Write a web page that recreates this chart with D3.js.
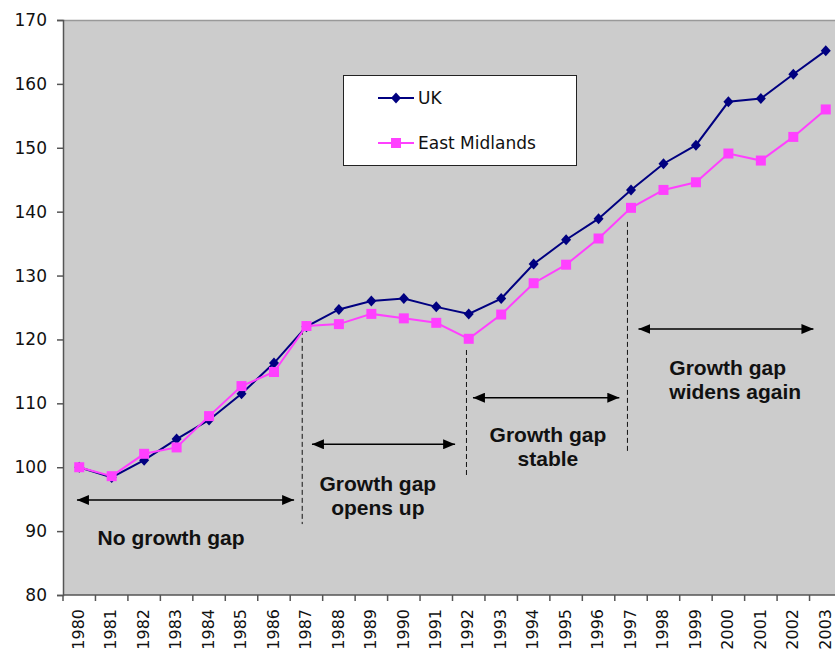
<!DOCTYPE html>
<html>
<head>
<meta charset="utf-8">
<script src="https://cdn.jsdelivr.net/npm/d3@7"></script>
<style>
  body { margin: 0; background: #fff; }
  svg { display: block; }
</style>
</head>
<body>
<div id="chart"></div>
<script>
// data
const years = d3.range(1980, 2004).map(String);
const ukValues = [100, 98.4, 101.1, 104.4, 107.4, 111.5, 116.3, 122.0, 124.7, 126.0, 126.4, 125.1,
                  124.0, 126.4, 131.8, 135.6, 138.9, 143.4, 147.5, 150.4, 157.2, 157.7, 161.5, 165.2];
const emValues = [100, 98.6, 102.1, 103.1, 108.0, 112.7, 114.9, 122.1, 122.4, 124.0, 123.3, 122.6,
                  120.1, 123.9, 128.8, 131.7, 135.8, 140.6, 143.4, 144.6, 149.1, 148.0, 151.7, 156.0];
const yTicks = [80, 90, 100, 110, 120, 130, 140, 150, 160, 170];

// annotations in data units (year, index value)
const dividers = [
    { x: 1986.87, y1: 121.5, y2: 91.1 },
    { x: 1991.93, y1: 118.35, y2: 98.5 },
    { x: 1996.89, y1: 138.4, y2: 102.4 }
];
const arrows = [
    { x1: 1979.93, x2: 1986.62, y: 94.87 },
    { x1: 1987.17, x2: 1991.58, y: 103.59 },
    { x1: 1992.13, x2: 1996.64, y: 110.88 },
    { x1: 1997.23, x2: 2002.62, y: 121.63 }
];
const notes = [
    { lines: ["No growth gap"], x: 1982.83, y: 87.83, anchor: "middle" },
    { lines: ["Growth gap", "opens up"], x: 1989.2, y: 96.33, anchor: "middle" },
    { lines: ["Growth gap", "stable"], x: 1994.44, y: 103.99, anchor: "middle" },
    { lines: ["Growth gap", "widens again"], x: 1998.18, y: 114.36, anchor: "start" }
];

const width = 835, height = 651;
const plot = { left: 63, right: 842, top: 20, bottom: 595 };

const svg = d3.select("#chart").append("svg")
    .attr("width", width)
    .attr("height", height);

const x = d3.scaleBand().domain(years).range([plot.left, plot.right]).padding(0);
const xYear = d3.scaleLinear().domain([1979.5, 2003.5]).range([plot.left, plot.right]);
const y = d3.scaleLinear().domain([80, 170]).range([plot.bottom, plot.top]);

// plot background
svg.append("rect")
    .attr("x", plot.left).attr("y", plot.top)
    .attr("width", plot.right - plot.left).attr("height", plot.bottom - plot.top)
    .attr("fill", "#cccccc");
svg.append("line")
    .attr("x1", plot.left).attr("x2", plot.right)
    .attr("y1", plot.top + 0.5).attr("y2", plot.top + 0.5)
    .attr("stroke", "#999").attr("stroke-width", 1.5);

// y axis
const yAxis = svg.append("g")
    .attr("transform", `translate(${plot.left},0)`)
    .call(d3.axisLeft(y).tickValues(yTicks).tickSize(6).tickPadding(10));
yAxis.select(".domain").attr("stroke", "#555").attr("stroke-width", 1.5);
yAxis.selectAll(".tick line").attr("stroke", "#555").attr("stroke-width", 1.5);
yAxis.selectAll("text")
    .attr("font-family", "DejaVu Sans, Verdana, sans-serif")
    .attr("font-size", 17)
    .attr("fill", "#111");

// x axis: ticks sit on band boundaries
const xAxis = svg.append("g")
    .attr("transform", `translate(0,${plot.bottom})`);
xAxis.append("line")
    .attr("x1", plot.left).attr("x2", plot.right)
    .attr("stroke", "#555").attr("stroke-width", 1.5);
xAxis.selectAll(".xtick")
    .data(years.concat(["end"]))
    .join("line")
    .attr("class", "xtick")
    .attr("x1", (d, i) => plot.left + i * x.step())
    .attr("x2", (d, i) => plot.left + i * x.step())
    .attr("y1", 0).attr("y2", 6)
    .attr("stroke", "#555").attr("stroke-width", 1.5);
xAxis.selectAll(".xlabel")
    .data(years)
    .join("text")
    .attr("class", "xlabel")
    .attr("transform", d => `translate(${x(d) + x.bandwidth() / 2 - 1},14) rotate(-90)`)
    .attr("dy", "0.36em")
    .attr("text-anchor", "end")
    .attr("font-family", "DejaVu Sans, Verdana, sans-serif")
    .attr("font-size", 16)
    .attr("fill", "#111")
    .text(d => d);

// annotations
const annot = svg.append("g");
annot.selectAll(".divider")
    .data(dividers)
    .join("line")
    .attr("class", "divider")
    .attr("x1", d => xYear(d.x)).attr("x2", d => xYear(d.x))
    .attr("y1", d => y(d.y1)).attr("y2", d => y(d.y2))
    .attr("stroke", "#111").attr("stroke-width", 1)
    .attr("stroke-dasharray", "5,3");

svg.append("defs").append("marker")
    .attr("id", "head")
    .attr("viewBox", "0 0 12 10")
    .attr("refX", 12).attr("refY", 5)
    .attr("markerWidth", 12).attr("markerHeight", 10)
    .attr("markerUnits", "userSpaceOnUse")
    .attr("orient", "auto-start-reverse")
    .append("path")
    .attr("d", "M0,0 L12,5 L0,10 Z")
    .attr("fill", "#000");

annot.selectAll(".arrow")
    .data(arrows)
    .join("line")
    .attr("class", "arrow")
    .attr("x1", d => xYear(d.x1)).attr("x2", d => xYear(d.x2))
    .attr("y1", d => y(d.y)).attr("y2", d => y(d.y))
    .attr("stroke", "#000").attr("stroke-width", 1.5)
    .attr("marker-start", "url(#head)")
    .attr("marker-end", "url(#head)");

const noteText = annot.selectAll(".note")
    .data(notes)
    .join("text")
    .attr("class", "note")
    .attr("x", d => xYear(d.x))
    .attr("y", d => y(d.y))
    .attr("text-anchor", d => d.anchor)
    .attr("font-family", "Liberation Sans, Arial, sans-serif")
    .attr("font-weight", "bold")
    .attr("font-size", 21)
    .attr("fill", "#111");
noteText.selectAll("tspan")
    .data(d => d.lines.map(t => ({ t, x: xYear(d.x) })))
    .join("tspan")
    .attr("x", d => d.x)
    .attr("dy", (d, i) => i === 0 ? 0 : 24)
    .text(d => d.t);

// series
const series = [
    { name: "UK", values: ukValues, color: "#000080", shape: "diamond" },
    { name: "East Midlands", values: emValues, color: "#ff40ff", shape: "square" }
];
const diamond = "M0,-5.5 L5,0 L0,5.5 L-5,0 Z";
const square = "M-5,-5 L5,-5 L5,5 L-5,5 Z";

const line = d3.line()
    .x((d, i) => x(years[i]) + x.bandwidth() / 2)
    .y(d => y(d));

series.forEach(s => {
    const g = svg.append("g");
    g.append("path")
        .datum(s.values)
        .attr("fill", "none")
        .attr("stroke", s.color)
        .attr("stroke-width", 2)
        .attr("d", line);
    g.selectAll("path.pt")
        .data(s.values)
        .join("path")
        .attr("class", "pt")
        .attr("transform", (d, i) => `translate(${x(years[i]) + x.bandwidth() / 2},${y(d)})`)
        .attr("d", s.shape === "diamond" ? diamond : square)
        .attr("fill", s.color);
});

// legend
const legend = svg.append("g");
legend.append("rect")
    .attr("x", 343.5).attr("y", 75.5)
    .attr("width", 233).attr("height", 90)
    .attr("fill", "#fff").attr("stroke", "#222").attr("stroke-width", 1);
const entries = legend.selectAll(".entry")
    .data(series)
    .join("g")
    .attr("class", "entry")
    .attr("transform", (d, i) => `translate(378,${98 + i * 45})`);
entries.append("line")
    .attr("x1", 0).attr("x2", 36)
    .attr("stroke", d => d.color).attr("stroke-width", 2);
entries.append("path")
    .attr("transform", "translate(18,0)")
    .attr("d", d => d.shape === "diamond" ? diamond : square)
    .attr("fill", d => d.color);
entries.append("text")
    .attr("x", 40)
    .attr("dy", "0.36em")
    .attr("font-family", "DejaVu Sans, Verdana, sans-serif")
    .attr("font-size", 17)
    .attr("fill", "#111")
    .text(d => d.name);
</script>
</body>
</html>
